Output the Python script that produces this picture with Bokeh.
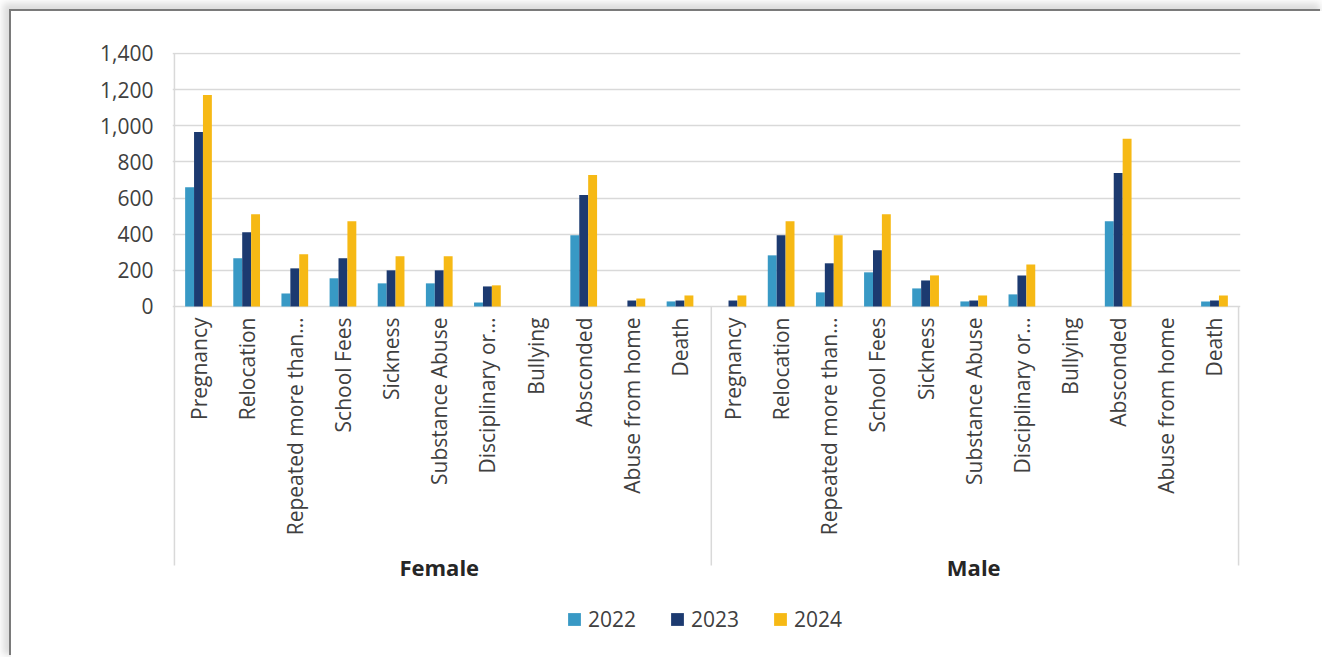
from math import pi

from bokeh.core.properties import value
from bokeh.embed import file_html
from bokeh.models import (ColumnDataSource, FactorRange, FixedTicker, Legend,
                          LegendItem, NumeralTickFormatter, Range1d)
from bokeh.plotting import figure
from bokeh.resources import INLINE
from bokeh.transform import dodge

# ---- data -------------------------------------------------------------
genders = ["Female", "Male"]
reasons = [
    "Pregnancy", "Relocation", "Repeated more than once", "School Fees",
    "Sickness", "Substance Abuse", "Disciplinary or expulsion", "Bullying",
    "Absconded", "Abuse from home", "Death",
]
reason_labels = [
    "Pregnancy", "Relocation", "Repeated more than…", "School Fees",
    "Sickness", "Substance Abuse", "Disciplinary or…", "Bullying",
    "Absconded", "Abuse from home", "Death",
]
years = ["2022", "2023", "2024"]

female_2022 = [660, 267, 72, 156, 128, 128, 22, 0, 394, 0, 28]
female_2023 = [965, 411, 211, 267, 200, 200, 111, 0, 617, 33, 33]
female_2024 = [1170, 511, 289, 472, 278, 278, 117, 0, 728, 44, 61]
male_2022 = [0, 283, 78, 189, 100, 28, 67, 0, 472, 0, 28]
male_2023 = [33, 394, 239, 311, 144, 33, 172, 0, 739, 0, 33]
male_2024 = [61, 472, 394, 511, 172, 61, 233, 0, 928, 0, 61]

y_ticks = [0, 200, 400, 600, 800, 1000, 1200, 1400]

colors = ["#3899c5", "#1c3a70", "#f6b915"]
FONT = "Open Sans"
TEXT = "#404040"
GRID = "#d9d9d9"

# ---- sources ----------------------------------------------------------
factors = [(g, r) for g in genders for r in reasons]
source = ColumnDataSource(dict(
    x=factors,
    y2022=female_2022 + male_2022,
    y2023=female_2023 + male_2023,
    y2024=female_2024 + male_2024,
))

GROUP_PAD = 0.1
x_range = FactorRange(*factors, group_padding=GROUP_PAD, factor_padding=0,
                      range_padding=0.04, range_padding_units="absolute")

p = figure(
    x_range=x_range, y_range=Range1d(-1876, 1405.5),
    width=1311, height=646,
    output_backend="svg", toolbar_location=None, x_axis_location=None,
    min_border_left=161, min_border_right=82,
    min_border_top=41, min_border_bottom=12,
    background_fill_color="white", border_fill_color="white",
    outline_line_color=None,
)
p.margin = (11, 0, 0, 11)
p.styles = {"box-shadow": "-2px -2px 0 0 #7a7a7a, -5px -5px 7px 3px #dddddd"}

# ---- bars -------------------------------------------------------------
BAR_W = 0.185
offsets = [-BAR_W, 0, BAR_W]
renderers = []
for yr, off, col in zip(years, offsets, colors):
    r = p.vbar(x=dodge("x", off, range=p.x_range), top="y" + yr, width=BAR_W,
               source=source, fill_color=col, line_color=None)
    renderers.append(r)

# ---- y axis & grid ----------------------------------------------------
p.yaxis.ticker = FixedTicker(ticks=y_ticks)
p.yaxis.formatter = NumeralTickFormatter(format="0,0")
p.yaxis.axis_line_color = None
p.yaxis.major_tick_line_color = None
p.yaxis.minor_tick_line_color = None
p.yaxis.major_tick_out = 0
p.yaxis.major_tick_in = 0
p.yaxis.major_label_standoff = 19
p.yaxis.major_label_text_font = FONT
p.yaxis.major_label_text_font_size = "21px"
p.yaxis.major_label_text_color = TEXT

p.xgrid.grid_line_color = None
p.ygrid.ticker = FixedTicker(ticks=y_ticks)
p.ygrid.grid_line_color = GRID
p.ygrid.grid_line_width = 1.5

# ---- category axis: separators and labels -----------------------------
n = len(reasons)
sep_bottom = -1433
p.segment(x0=[0, n + 0.15, 2 * n + GROUP_PAD],
          y0=[y_ticks[-1], 0, 0],
          x1=[0, n + 0.15, 2 * n + GROUP_PAD],
          y1=[sep_bottom] * 3,
          line_color=GRID, line_width=1.5)

label_src = ColumnDataSource(dict(x=factors, text=reason_labels * len(genders)))
p.text(x="x", y=-61, text="text", source=label_src, angle=pi / 2,
       text_align="right", text_baseline="middle",
       text_font=value(FONT), text_font_size="21px", text_color=TEXT)

p.text(x=genders, y=[-1444] * len(genders), text=genders,
       text_align="center", text_baseline="middle",
       text_font=value(FONT), text_font_size="22px", text_font_style="bold",
       text_color="#262626")

# ---- legend -----------------------------------------------------------
legend = Legend(
    items=[LegendItem(label=yr, renderers=[r]) for yr, r in zip(years, renderers)],
    orientation="horizontal", location=(394, 12),
    glyph_width=16, glyph_height=16, label_standoff=6, spacing=33,
    padding=0, margin=0, border_line_color=None, background_fill_alpha=0,
    label_text_font=FONT, label_text_font_size="21px", label_text_color=TEXT,
)
p.add_layout(legend)

open("out.html", "w").write(file_html(p, INLINE))
